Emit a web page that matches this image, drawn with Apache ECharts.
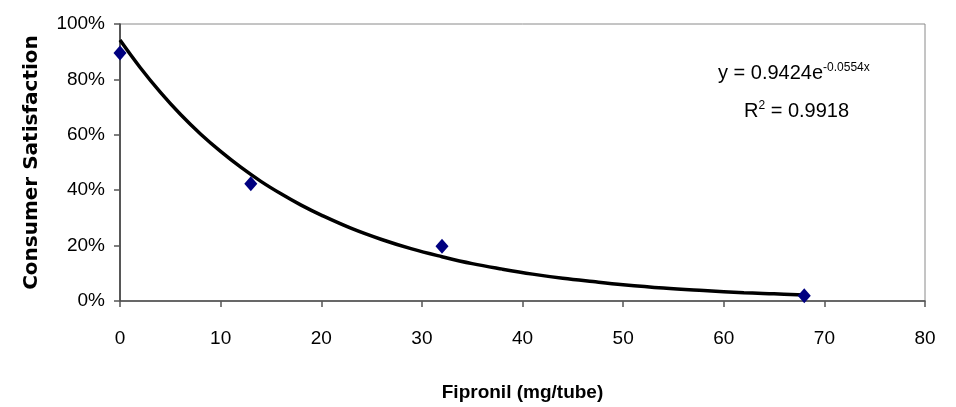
<!DOCTYPE html>
<html>
<head>
<meta charset="utf-8">
<script src="https://cdn.jsdelivr.net/npm/echarts@6/dist/echarts.min.js"></script>
<style>
html,body{margin:0;padding:0;background:#fff;}
#c{width:956px;height:407px;}
</style>
</head>
<body>
<div id="c"></div>
<script>
// Observed data points (Fipronil mg/tube, satisfaction fraction)
var doseX = [0, 13, 32, 68];
var satisfaction = [0.895, 0.423, 0.198, 0.019];
// Trend line values
var trendX = [0, 2, 4, 6, 8, 10, 12, 14, 16, 18, 20, 23, 26, 29, 32, 35, 38, 41, 44, 47, 50, 54, 58, 62, 65, 68];
var trendY = [0.942, 0.843, 0.754, 0.674, 0.603, 0.540, 0.483, 0.432, 0.387, 0.346, 0.310, 0.262, 0.222, 0.188, 0.160, 0.135, 0.115, 0.097, 0.082, 0.070, 0.059, 0.047, 0.038, 0.030, 0.026, 0.022];
var xTicks = [0, 10, 20, 30, 40, 50, 60, 70, 80];
var yTicks = ['0%', '20%', '40%', '60%', '80%', '100%'];
var eqText = 'y = 0.9424e';
var eqExp = '-0.0554x';
var r2Text = ' = 0.9918';

var FONT = "'Liberation Sans Narrow', 'Arial Narrow', 'Liberation Sans', Arial, sans-serif";
var chart = echarts.init(document.getElementById('c'), null, {renderer: 'canvas'});

function zip(a, b) { return a.map(function (v, i) { return [v, b[i]]; }); }

chart.setOption({
  animation: false,
  backgroundColor: '#ffffff',
  grid: {left: 120, right: 31, top: 24, bottom: 104, show: true, borderColor: '#8a8a8a', borderWidth: 1, backgroundColor: 'transparent'},
  xAxis: {
    type: 'value', min: xTicks[0], max: xTicks[xTicks.length - 1], interval: 10,
    axisLine: {show: true, lineStyle: {color: '#4a4a4a', width: 1.5}},
    axisTick: {show: true, inside: false, length: 6, lineStyle: {color: '#555', width: 1.5}},
    axisLabel: {color: '#000', fontFamily: FONT, fontSize: 19, margin: 28},
    splitLine: {show: false},
    name: 'Fipronil (mg/tube)', nameLocation: 'middle', nameGap: 82,
    nameTextStyle: {color: '#000', fontFamily: FONT, fontSize: 19, fontWeight: 'bold'}
  },
  yAxis: {
    type: 'value', min: 0, max: 1, interval: 0.2,
    axisLine: {show: true, lineStyle: {color: '#333', width: 1.5}},
    axisTick: {show: true, inside: false, length: 6, lineStyle: {color: '#555', width: 1.5}},
    axisLabel: {color: '#000', fontFamily: FONT, fontSize: 19, margin: 15,
      formatter: function (v) { return yTicks[Math.round(v * 5)]; }},
    splitLine: {show: false},
    name: 'Consumer Satisfaction', nameLocation: 'middle', nameGap: 78,
    nameTextStyle: {color: '#000', fontFamily: "'DejaVu Sans', sans-serif", fontSize: 20, fontWeight: 'bold'}
  },
  series: [
    {
      type: 'line', data: zip(trendX, trendY), smooth: 0.4, showSymbol: false,
      lineStyle: {color: '#000', width: 3.5}, z: 2
    },
    {
      type: 'scatter', data: zip(doseX, satisfaction), symbol: 'diamond', symbolSize: [13, 15],
      itemStyle: {color: '#000080', opacity: 1}, z: 3
    }
  ],
  graphic: [
    {
      type: 'text', left: 718, top: 62,
      style: {
        text: '{a|' + eqText + '}{b|' + eqExp + '}',
        rich: {
          a: {fontFamily: FONT, fontSize: 20, fill: '#000', lineHeight: 22},
          b: {fontFamily: FONT, fontSize: 12, fill: '#000', verticalAlign: 'top', lineHeight: 22, padding: [0, 0, 10, 0]}
        }
      }
    },
    {
      type: 'text', left: 744, top: 100,
      style: {
        text: '{a|R}{b|2}{a|' + r2Text + '}',
        rich: {
          a: {fontFamily: FONT, fontSize: 20, fill: '#000', lineHeight: 22},
          b: {fontFamily: FONT, fontSize: 12, fill: '#000', lineHeight: 22, padding: [0, 0, 10, 0]}
        }
      }
    }
  ]
});
</script>
</body>
</html>
